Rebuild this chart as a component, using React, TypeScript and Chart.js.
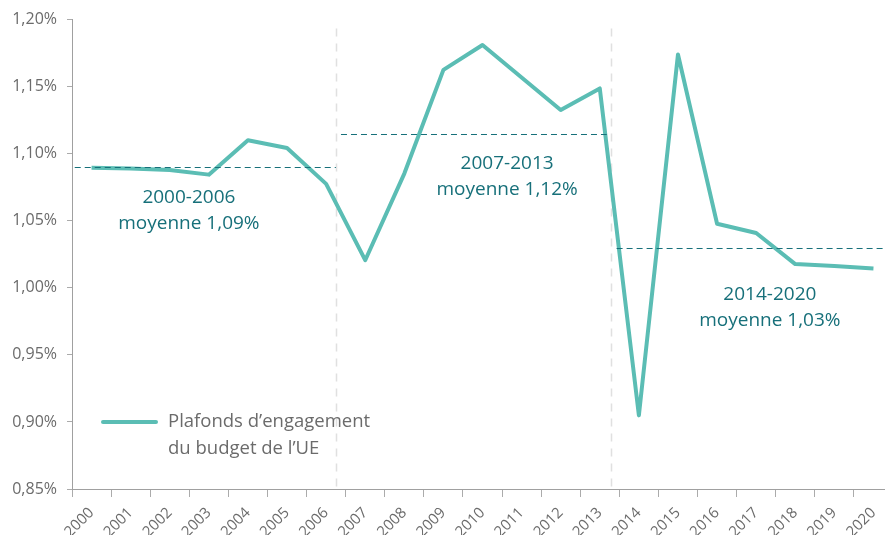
import { useEffect, useRef } from "react";
import { Chart, registerables } from "chart.js";

Chart.register(...registerables);

const years = [
  "2000", "2001", "2002", "2003", "2004", "2005", "2006",
  "2007", "2008", "2009", "2010", "2011", "2012", "2013",
  "2014", "2015", "2016", "2017", "2018", "2019", "2020",
];
const ceilings = [
  1.0896, 1.0889, 1.0878, 1.0844, 1.110, 1.1042, 1.0775,
  1.0206, 1.0852, 1.1625, 1.1811, 1.1568, 1.1326, 1.1487,
  0.9049, 1.174, 1.0478, 1.0409, 1.0177, 1.0162, 1.0145,
];
const seriesLabel = ["Plafonds d\u2019engagement", "du budget de l\u2019UE"];
const periodNames = ["2000-2006", "2007-2013", "2014-2020"];
const periodAverageTexts = ["moyenne 1,09%", "moyenne 1,12%", "moyenne 1,03%"];
const periodAverages = [1.09, 1.115, 1.03];
// extents of the average lines, in category-index units
const periodStarts = [-0.43, 6.38, 13.43];
const periodEnds = [6.25, 13.18, 20.6];
const periodDividers = [6.25, 13.29];
// annotation anchors (category index, value)
const periodTextX = [2.49, 10.63, 17.35];
const periodTextY = [1.067, 1.093, 0.995];

const LINE_COLOR = "#5BBDB4";
const DARK_TEAL = "#17707A";
const GRAY_TEXT = "#6B6B6B";
const FONT = "'Open Sans', sans-serif";

const overlayPlugin = {
  id: "overlay",
  beforeDatasetsDraw(chart: any) {
    const { ctx, chartArea, scales } = chart;
    const x = scales.x;
    ctx.save();
    ctx.strokeStyle = "#E0E0E0";
    ctx.lineWidth = 1.5;
    ctx.setLineDash([8, 7]);
    periodDividers.forEach((d) => {
      const px = Math.round(x.getPixelForValue(d)) + 0.5;
      ctx.beginPath();
      ctx.moveTo(px, chartArea.top + 9);
      ctx.lineTo(px, chartArea.bottom);
      ctx.stroke();
    });
    ctx.restore();
  },
  afterDatasetsDraw(chart: any) {
    const { ctx, chartArea, scales } = chart;
    const x = scales.x;
    const y = scales.y;
    ctx.save();
    ctx.strokeStyle = DARK_TEAL;
    ctx.lineWidth = 1;
    ctx.setLineDash([6, 4]);
    periodAverages.forEach((v, i) => {
      const py = Math.round(y.getPixelForValue(v)) + 0.5;
      ctx.beginPath();
      ctx.moveTo(x.getPixelForValue(periodStarts[i]), py);
      ctx.lineTo(x.getPixelForValue(periodEnds[i]), py);
      ctx.stroke();
    });
    ctx.setLineDash([]);
    ctx.fillStyle = DARK_TEAL;
    ctx.textAlign = "center";
    ctx.textBaseline = "middle";
    ctx.font = `19px ${FONT}`;
    periodNames.forEach((name, i) => {
      const px = x.getPixelForValue(periodTextX[i]);
      const py = y.getPixelForValue(periodTextY[i]);
      ctx.fillText(name, px, py);
      ctx.fillText(periodAverageTexts[i], px, py + 26);
    });
    // legend
    const ly = Math.round(y.getPixelForValue(0.9));
    const lx = chartArea.left + 31;
    ctx.strokeStyle = LINE_COLOR;
    ctx.lineWidth = 4;
    ctx.lineCap = "round";
    ctx.beginPath();
    ctx.moveTo(lx, ly);
    ctx.lineTo(lx + 53, ly);
    ctx.stroke();
    ctx.fillStyle = GRAY_TEXT;
    ctx.textAlign = "left";
    ctx.font = `18.5px ${FONT}`;
    seriesLabel.forEach((t, i) => {
      ctx.fillText(t, lx + 65, ly + i * 27);
    });
    ctx.restore();
  },
};

export default function App() {
  const ref = useRef<HTMLCanvasElement | null>(null);
  useEffect(() => {
    if (!ref.current) return;
    const chart = new Chart(ref.current, {
      type: "line",
      data: {
        labels: years,
        datasets: [
          {
            label: seriesLabel.join(" "),
            data: ceilings,
            borderColor: LINE_COLOR,
            backgroundColor: LINE_COLOR,
            borderWidth: 4,
            borderJoinStyle: "round",
            pointRadius: 0,
            tension: 0,
          },
        ],
      },
      options: {
        animation: false,
        responsive: false,
        maintainAspectRatio: false,
        layout: { padding: { top: 16, right: 7, left: 0, bottom: 0 } },
        plugins: {
          legend: { display: false },
          tooltip: { enabled: false },
        },
        scales: {
          x: {
            type: "category",
            offset: true,
            grid: {
              offset: true,
              drawOnChartArea: false,
              drawTicks: true,
              tickLength: 8,
              color: "#ABABAB",
            },
            border: { color: "#A0A0A0", width: 1 },
            ticks: {
              autoSkip: false,
              minRotation: 45,
              maxRotation: 45,
              color: GRAY_TEXT,
              padding: 7,
              font: { family: FONT, size: 15 },
            },
            afterFit: (s: any) => {
              s.height = 46;
            },
          },
          y: {
            min: 0.85,
            max: 1.2,
            grid: {
              drawOnChartArea: false,
              drawTicks: true,
              tickLength: 5,
              color: "#ABABAB",
            },
            border: { color: "#A0A0A0", width: 1 },
            ticks: {
              stepSize: 0.05,
              color: GRAY_TEXT,
              padding: 10,
              font: { family: FONT, size: 16 },
              callback: (v: any) => Number(v).toFixed(2).replace(".", ",") + "%",
            },
            afterFit: (s: any) => {
              s.width = 72;
            },
          },
        },
      },
      plugins: [overlayPlugin],
    });
    return () => chart.destroy();
  }, []);
  return (
    <div
      style={{
        position: "absolute",
        left: 0,
        top: 0,
        width: 885,
        height: 535,
        overflow: "hidden",
        background: "#fff",
      }}
    >
      <canvas ref={ref} width={900} height={535} style={{ display: "block" }} />
    </div>
  );
}
